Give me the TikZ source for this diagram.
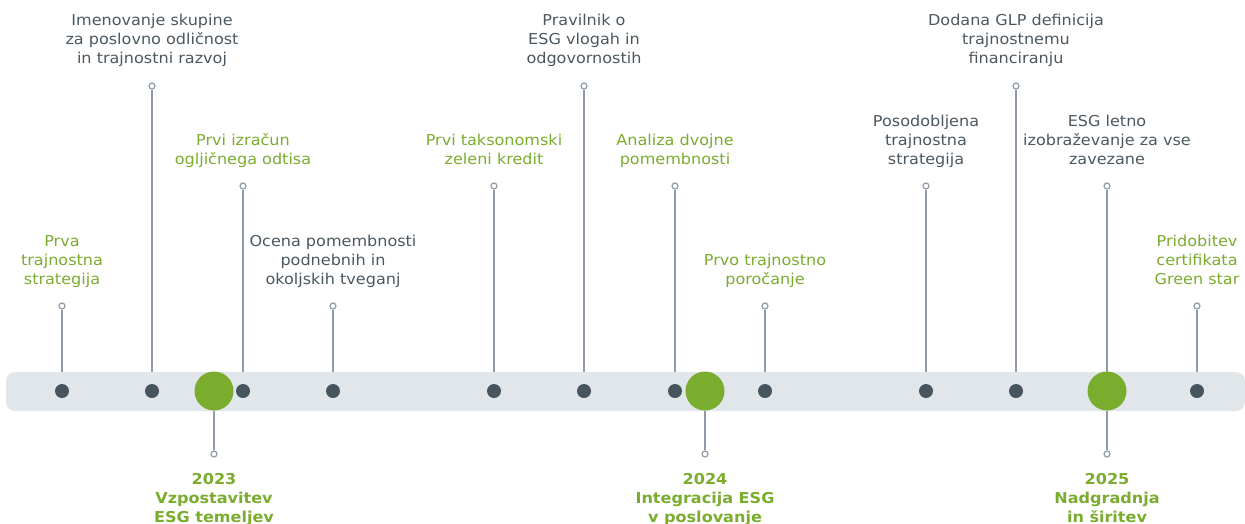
\documentclass[tikz,border=0pt]{standalone}
\usepackage{fontspec}
\setmainfont{DejaVu Sans}[FakeStretch=1.07]
\definecolor{grn}{HTML}{7AAC2E}
\definecolor{dotc}{HTML}{46555E}
\definecolor{bandc}{HTML}{E1E6EA}
\definecolor{txtg}{HTML}{4B575F}
\definecolor{stemc}{HTML}{8F9CA7}
\begin{document}
\begin{tikzpicture}[x=1pt,y=-1pt,
  lbl/.style={font=\fontsize{15}{19}\selectfont, align=center, inner sep=0pt, anchor=base},
  glbl/.style={lbl, text=grn},
  dlbl/.style={lbl, text=txtg},
  ylbl/.style={lbl, text=grn, font=\fontsize{15}{19}\selectfont\bfseries},
  tip/.style={circle, draw=stemc, line width=1.2pt, fill=white, inner sep=0pt, minimum size=6pt},
  stem/.style={draw=stemc, line width=1.5pt},
  dot/.style={circle, fill=dotc, inner sep=0pt, minimum size=14pt},
  big/.style={circle, fill=grn, inner sep=0pt, minimum size=39pt},
  bandst/.style={fill=bandc, rounded corners=9pt}]
\useasboundingbox (0,0) rectangle (1245,523);
% stems above the band
\foreach \x/\ty/\i in {62/306/1,152/86/2,243/186/3,333/306/4,494/186/5,584/86/6,675/186/7,765/306/8,926/186/9,1016/86/10,1107/186/11,1197/306/12}{
  \coordinate (b\i) at (\x,372);
  \node[tip] (t\i) at (\x,\ty) {};
  \draw[stem] (t\i.south) -- (b\i);
}
% band
\fill[bandst] (6,372) rectangle (1245,411);
% dots
\foreach \x/\i in {62/1,152/2,243/3,333/4,494/5,584/6,675/7,765/8,926/9,1016/10,1197/12}{
  \node[dot] (d\i) at (\x,391) {};
}
% year circles
\node[big] (y1) at (214,391) {};
\node[big] (y2) at (705,391) {};
\node[big] (y3) at (1107,391) {};
\node[tip] (yt1) at (214,454) {};
\node[tip] (yt2) at (705,454) {};
\node[tip] (yt3) at (1107,454) {};
\draw[stem] (y1.south) -- (yt1.north);
\draw[stem] (y2.south) -- (yt2.north);
\draw[stem] (y3.south) -- (yt3.north);
% labels (anchor = baseline of last line)
\node[glbl] (l1) at (62,284) {Prva\\trajnostna\\strategija};
\node[dlbl] (l2) at (152,63) {Imenovanje skupine\\za poslovno odličnost\\in trajnostni razvoj};
\node[glbl] (l3) at (243,164) {Prvi izračun\\ogljičnega odtisa};
\node[dlbl] (l4) at (333,284) {Ocena pomembnosti\\podnebnih in\\okoljskih tveganj};
\node[glbl] (l5) at (494,164) {Prvi taksonomski\\zeleni kredit};
\node[dlbl] (l6) at (584,63) {Pravilnik o\\ESG vlogah in\\odgovornostih};
\node[glbl] (l7) at (675,164) {Analiza dvojne\\pomembnosti};
\node[glbl] (l8) at (765,284) {Prvo trajnostno\\poročanje};
\node[dlbl] (l9) at (926,164) {Posodobljena\\trajnostna\\strategija};
\node[dlbl] (l10) at (1016,63) {Dodana GLP definicija\\trajnostnemu\\financiranju};
\node[dlbl] (l11) at (1107,164) {ESG letno\\izobraževanje za vse\\zavezane};
\node[glbl] (l12) at (1197,284) {Pridobitev\\certifikata\\Green star};
\node[ylbl] (z1) at (214,522) {2023\\Vzpostavitev\\ESG temeljev};
\node[ylbl] (z2) at (705,522) {2024\\Integracija ESG\\v poslovanje};
\node[ylbl] (z3) at (1107,522) {2025\\Nadgradnja\\in širitev};
\end{tikzpicture}
\end{document}
